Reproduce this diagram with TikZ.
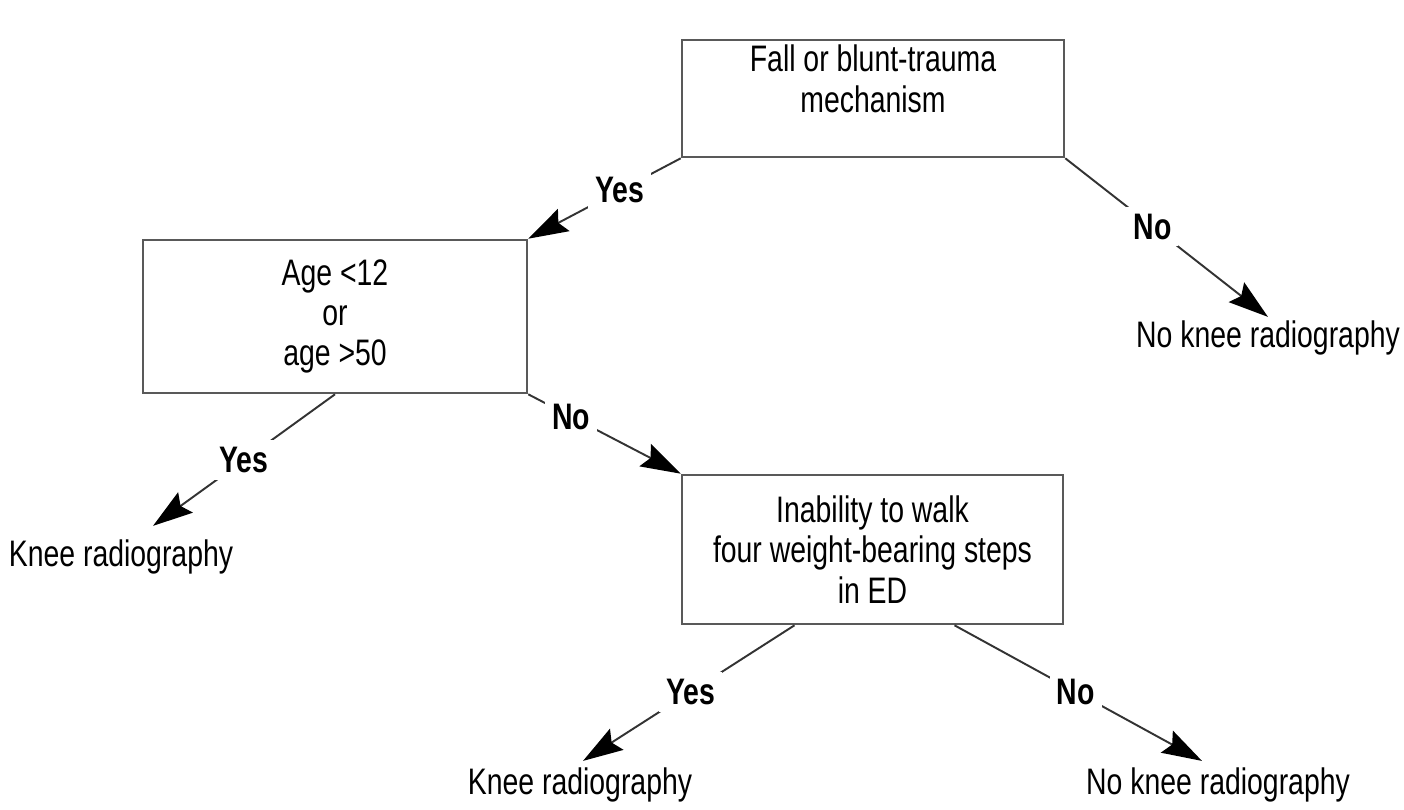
\documentclass[tikz,border=0pt]{standalone}
\usepackage{fontspec}
\setmainfont{Liberation Sans}[FakeStretch=0.77]
\usetikzlibrary{arrows.meta,positioning,calc}
\newcommand{\boxfont}{\fontsize{21}{23}\selectfont}
\tikzset{
  box/.style={draw=black!65, line width=1.5pt, align=center, font=\boxfont, inner sep=0pt},
  txt/.style={align=center, font=\boxfont, inner sep=0pt},
  ans/.style={font=\boxfont\bfseries, fill=white, inner sep=4pt},
  arr/.style={-{Stealth[length=8mm, width=5mm, inset=1.2mm, color=black]}, draw=black!80, line width=1.1pt},
}
\begin{document}
\begin{tikzpicture}[x=0.02cm, y=-0.02cm]
\useasboundingbox (0,0) rectangle (1404,810);

% decision boxes
\node[box, minimum width=7.64cm, minimum height=2.34cm] (fall) at (873,98.5) {};
\node[txt, below=0.12cm of fall.north] (fallTxt) {Fall or blunt-trauma\\mechanism};
\node[box, minimum width=7.68cm, minimum height=3.06cm] (age) at (335,316.5) {Age <12\\or\\age >50};
\node[box, minimum width=7.62cm, minimum height=2.98cm] (walk) at (872.5,549.5)
  {Inability to walk\\four weight-bearing steps\\in ED};

% outcomes
\node[txt, anchor=base] (noKneeA) at (1268,348) {No knee radiography};
\node[txt, anchor=base] (kneeA) at (121,567) {Knee radiography};
\node[txt, anchor=base] (kneeB) at (580,795) {Knee radiography};
\node[txt, anchor=base] (noKneeB) at (1218,795) {No knee radiography};

\draw[arr] (fall.south west) -- node[ans, pos=0.4] {Yes} (age.north east);
\draw[arr] (fall.south east) -- node[ans, pos=0.43] {No} ($(noKneeA.north)+(0,-4)$);
\draw[arr] (age.south) -- node[ans] {Yes} ($(kneeA.north)+(32,-14)$);
\draw[arr] (age.south east) -- node[ans, pos=0.28] {No} (walk.north west);
\draw[arr] ($(walk.south)+(-78,0)$) -- node[ans, pos=0.49] {Yes} ($(kneeB.north)+(3,-7)$);
\draw[arr] ($(walk.south)+(82,0)$) -- node[ans, pos=0.49] {No} ($(noKneeB.north)+(-16,-7)$);
\end{tikzpicture}
\end{document}
